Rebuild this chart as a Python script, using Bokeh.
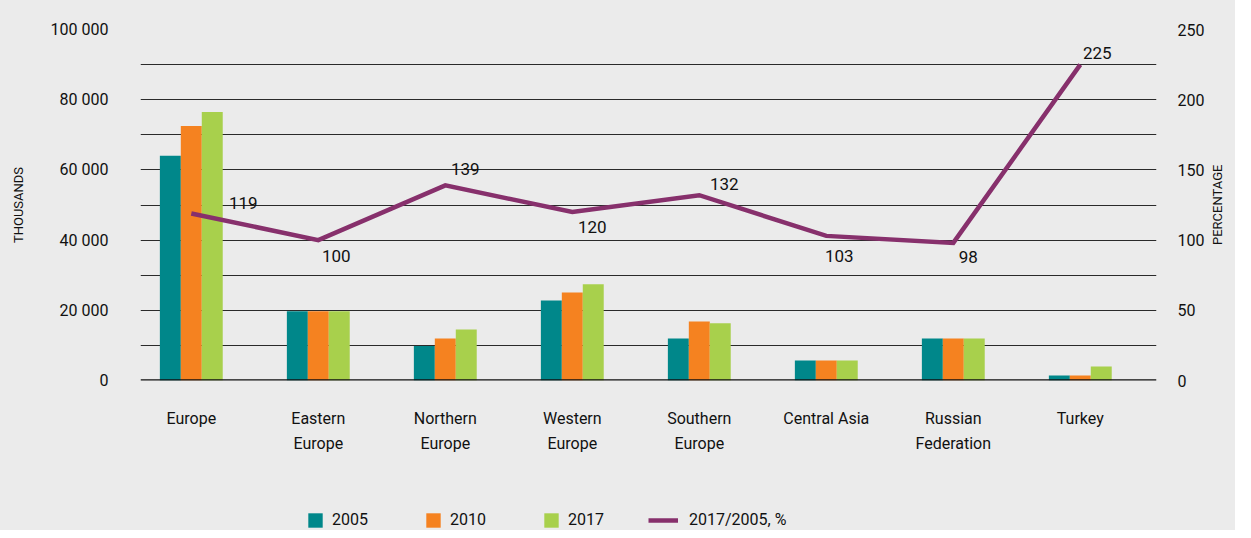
import math
from bokeh.plotting import figure
from bokeh.layouts import column
from bokeh.models import (ColumnDataSource, Range1d, LinearAxis, FixedTicker,
                          Legend, LegendItem, Span)
from bokeh.transform import dodge
from bokeh.core.properties import value
from bokeh.embed import file_html
from bokeh.resources import INLINE

# ---- data ----
regions = ["Europe", "Eastern\nEurope", "Northern\nEurope", "Western\nEurope",
           "Southern\nEurope", "Central Asia", "Russian\nFederation", "Turkey"]
v2005 = [64000, 19700, 9800, 22800, 12000, 5700, 12000, 1400]
v2010 = [72500, 19700, 12000, 25100, 16800, 5700, 12000, 1400]
v2017 = [76500, 19700, 14500, 27400, 16300, 5700, 12000, 4000]
ratio = [119, 100, 139, 120, 132, 103, 98, 225]
ratio_labels = ["119", "100", "139", "120", "132", "103", "98", "225"]
left_ticks = [0, 20000, 40000, 60000, 80000, 100000]
left_tick_labels = ["0", "20 000", "40 000", "60 000", "80 000", "100 000"]
right_ticks = [0, 50, 100, 150, 200, 250]
series_names = ["2005", "2010", "2017", "2017/2005, %"]
right_title = "PERCENTAGE"

# label placement (screen px offsets)
label_dx = [52, 18, 20, 20, 25, 13, 15, 17]
label_dy = [-10, 16, -16, 15, -11, 20, 14, -12]

FONT = "Roboto"
TXT = "#111111"
BG = "#ebebeb"
C05, C10, C17, CL = "#00878a", "#f58220", "#a8d04c", "#87306c"

FRAME_H = 351
PCT_MAX = 250

xs = list(range(len(regions)))
src = ColumnDataSource(dict(x=xs, v2005=v2005, v2010=v2010, v2017=v2017,
                            ratio=ratio, lab=ratio_labels, dx=label_dx, dy=label_dy))

p = figure(width=1235, height=470, output_backend="svg", toolbar_location=None,
           x_range=Range1d(-0.4, 7.6), y_range=Range1d(0, 100000),
           min_border_left=140, min_border_right=79, min_border_top=29,
           min_border_bottom=90)
p.background_fill_color = BG
p.border_fill_color = BG
p.outline_line_color = None
p.extra_y_ranges = {"pct": Range1d(0, PCT_MAX)}

bw = 0.165
p.vbar(x=dodge("x", -bw, range=p.x_range), top="v2005", width=bw, bottom=0,
       source=src, color=C05, line_color=None)
p.vbar(x="x", top="v2010", width=bw, bottom=0, source=src, color=C10,
       line_color=None)
p.vbar(x=dodge("x", bw, range=p.x_range), top="v2017", width=bw, bottom=0,
       source=src, color=C17, line_color=None)

p.line(x="x", y="ratio", source=src, y_range_name="pct", line_color=CL,
       line_width=4.5, line_join="miter")
p.text(x="x", y="ratio", text="lab", x_offset="dx", y_offset="dy", source=src,
       y_range_name="pct", text_align="center", text_baseline="middle",
       text_font=value(FONT), text_font_size="17px", text_color=TXT)

p.add_layout(Span(location=0, dimension="width", line_color=TXT,
                  line_width=2.5))

# grid
p.xgrid.visible = False
p.ygrid.ticker = FixedTicker(ticks=list(range(0, 100001, 10000)))
p.ygrid.grid_line_color = "#2a2a2a"
p.ygrid.grid_line_width = 1


def style_axis(ax, size="16px"):
    ax.axis_line_color = None
    ax.major_tick_line_color = None
    ax.minor_tick_line_color = None
    ax.major_label_text_font = FONT
    ax.major_label_text_font_size = size
    ax.major_label_text_color = TXT
    ax.axis_label_text_font = FONT
    ax.axis_label_text_font_size = "13px"
    ax.axis_label_text_font_style = "normal"
    ax.axis_label_text_color = TXT


xa = p.xaxis[0]
style_axis(xa)
xa.ticker = FixedTicker(ticks=xs)
xa.major_label_overrides = {i: r for i, r in enumerate(regions)}
xa.major_label_standoff = 22
xa.major_label_text_line_height = 1.35

ya = p.yaxis[0]
style_axis(ya)
ya.ticker = FixedTicker(ticks=left_ticks)
ya.major_label_overrides = {t: l for t, l in zip(left_ticks, left_tick_labels)}
ya.major_label_standoff = 26
ya.axis_label = "THOUSANDS"
ya.axis_label_standoff = 22

ra = LinearAxis(y_range_name="pct", ticker=FixedTicker(ticks=right_ticks))
style_axis(ra)
ra.major_label_standoff = 15
p.add_layout(ra, "right")

# right-hand title drawn as the single label of a tick-less outer axis,
# rotated to read bottom to top; the label starts at its tick, so the tick
# sits half the word's length below the middle of the frame
title_len_px = 80
title_tick = PCT_MAX / 2 - (title_len_px / 2) * PCT_MAX / FRAME_H
rt = LinearAxis(y_range_name="pct", ticker=FixedTicker(ticks=[title_tick]))
style_axis(rt, "13px")
rt.major_label_overrides = {title_tick: right_title}
rt.major_label_orientation = math.pi / 2
rt.major_label_standoff = 4
p.add_layout(rt, "right")

# ---- legend strip ----
lg = figure(width=1235, height=60, output_backend="svg", toolbar_location=None,
            x_range=Range1d(0, 1), y_range=Range1d(0, 1),
            min_border=0, min_border_left=0, min_border_right=0,
            min_border_top=0, min_border_bottom=0)
lg.axis.visible = False
lg.grid.visible = False
lg.background_fill_color = BG
lg.border_fill_color = BG
lg.outline_line_color = None
# zero-size proxy glyphs, only used to draw the legend keys
d05 = lg.vbar(x=[0], top=[0], bottom=[0], width=0, color=C05, line_color=None)
d10 = lg.vbar(x=[0], top=[0], bottom=[0], width=0, color=C10, line_color=None)
d17 = lg.vbar(x=[0], top=[0], bottom=[0], width=0, color=C17, line_color=None)
dl = lg.line(x=[0, 0], y=[0, 0], line_color=CL, line_width=4.5)

common = dict(orientation="horizontal", padding=0, margin=0,
              background_fill_alpha=0, border_line_color=None,
              label_text_font=FONT, label_text_font_size="16px",
              label_text_color=TXT)
leg_bars = Legend(items=[LegendItem(label=series_names[0], renderers=[d05]),
                         LegendItem(label=series_names[1], renderers=[d10]),
                         LegendItem(label=series_names[2], renderers=[d17])],
                  location=(166, 1), glyph_width=18, glyph_height=18,
                  label_standoff=8, spacing=56, **common)
leg_line = Legend(items=[LegendItem(label=series_names[3], renderers=[dl])],
                  location=(508, 1), glyph_width=30, glyph_height=18,
                  label_standoff=11, **common)
lg.add_layout(leg_bars)
lg.add_layout(leg_line)

layout = column(p, lg, spacing=0)
layout.styles = {"background-color": BG}
open("out.html", "w").write(file_html(layout, INLINE))
